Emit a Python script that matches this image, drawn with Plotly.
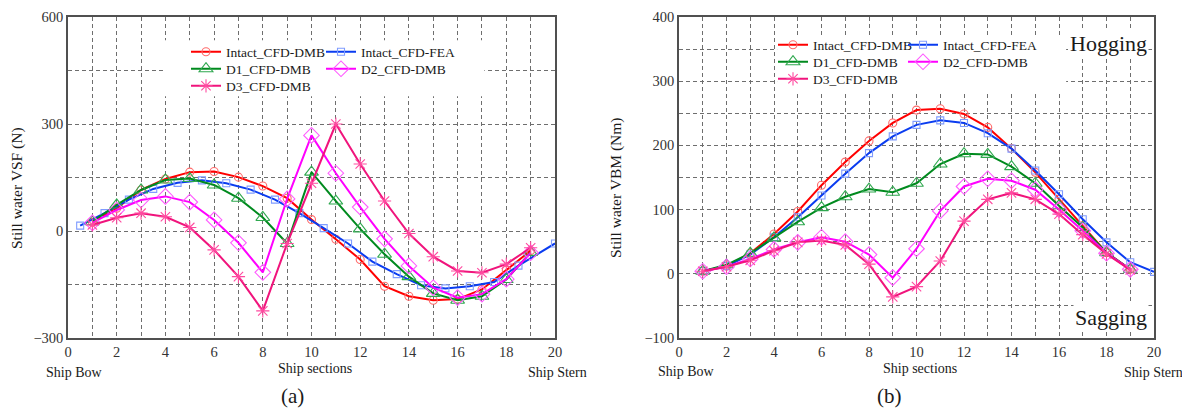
import plotly.graph_objects as go

W, H = 1182, 410

# ---------------- data ----------------
sections = list(range(1, 20))
fea_sections_vsf = [0.5, 1.5, 2.5, 3.5, 4.5, 5.5, 6.5, 7.5, 8.5, 9.5,
                    10.5, 11.5, 12.5, 13.5, 14.5, 15.5, 16.5, 17.5, 18.5, 20]
fea_sections_vbm = list(range(1, 21))

# (a) still water vertical shear force, N
vsf_intact_dmb = [25, 64, 115, 146, 165, 167, 151, 126, 92, 32,
                  -23, -80, -155, -183, -194, -191, -164, -110, -55]
vsf_intact_fea = [15, 50, 88, 118, 135, 142, 134, 116, 88, 50,
                  8, -35, -86, -121, -152, -161, -155, -143, -97, -35]
vsf_d1_dmb = [26, 73, 115, 143, 147, 129, 92, 38, -35, 165,
              84, 6, -65, -128, -175, -194, -183, -136, -60]
vsf_d2_dmb = [23, 59, 87, 97, 81, 31, -33, -116, 90, 268,
              162, 67, -22, -98, -159, -187, -177, -135, -61]
vsf_d3_dmb = [17, 37, 50, 40, 10, -53, -128, -224, -35, 134,
              300, 188, 84, -7, -72, -112, -117, -93, -47]

# (b) still water vertical bending moment, Nm
vbm_intact_dmb = [4, 12, 32, 62, 97, 138, 174, 207, 235, 255,
                  257, 249, 228, 195, 158, 116, 75, 33, 7]
vbm_intact_fea = [4, 12, 30, 57, 88, 122, 156, 188, 214, 232,
                  239, 235, 219, 195, 161, 124, 85, 49, 18, 3]
vbm_d1_dmb = [4, 14, 32, 56, 81, 103, 120, 132, 127, 141,
              171, 187, 186, 167, 141, 106, 72, 33, 7]
vbm_d2_dmb = [4, 11, 23, 38, 49, 57, 50, 30, -6, 39,
              98, 136, 148, 145, 131, 100, 67, 32, 7]
vbm_d3_dmb = [4, 11, 21, 36, 49, 52, 45, 15, -36, -20,
              20, 82, 116, 126, 116, 93, 61, 31, 6]

x_tick_vals = list(range(0, 21, 2))
vsf_tick_vals = [-300, 0, 300, 600]
vbm_tick_vals = [-100, 0, 100, 200, 300, 400]

series_names = ["Intact_CFD-DMB", "Intact_CFD-FEA", "D1_CFD-DMB", "D2_CFD-DMB", "D3_CFD-DMB"]

# ---------------- styling ----------------
FONT = "Liberation Serif"
styles = {
    "Intact_CFD-DMB": dict(line="#ff0000", mark="#ff6a6a", symbol="circle-open", size=8),
    "Intact_CFD-FEA": dict(line="#0a3cf0", mark="#7f9cff", symbol="square-open", size=7),
    "D1_CFD-DMB": dict(line="#008a1e", mark="#2fa84f", symbol="triangle-up-open", size=12),
    "D2_CFD-DMB": dict(line="#ff00ff", mark="#ff5cff", symbol="diamond-open", size=12),
    "D3_CFD-DMB": dict(line="#f0147c", mark="#ff4aa0", symbol="asterisk-open", size=11),
}

fig = go.Figure()

def px_x(p):
    return p / W

def px_y(p):
    return 1 - p / H

panels = [
    dict(xa="x", ya="y",
         data=[(sections, vsf_intact_dmb), (fea_sections_vsf, vsf_intact_fea),
               (sections, vsf_d1_dmb), (sections, vsf_d2_dmb), (sections, vsf_d3_dmb)],
         legend_pos={"Intact_CFD-DMB": (191, 52), "D1_CFD-DMB": (191, 69), "D3_CFD-DMB": (191, 86),
                     "Intact_CFD-FEA": (326, 52), "D2_CFD-DMB": (326, 69)}),
    dict(xa="x2", ya="y2",
         data=[(sections, vbm_intact_dmb), (fea_sections_vbm, vbm_intact_fea),
               (sections, vbm_d1_dmb), (sections, vbm_d2_dmb), (sections, vbm_d3_dmb)],
         legend_pos={"Intact_CFD-DMB": (778, 45), "D1_CFD-DMB": (778, 62), "D3_CFD-DMB": (778, 79),
                     "Intact_CFD-FEA": (908, 45), "D2_CFD-DMB": (908, 62)}),
]

layout_legends = {}
legend_idx = 1
for panel in panels:
    for name, (xs, ys) in zip(series_names, panel["data"]):
        st = styles[name]
        key = "legend" if legend_idx == 1 else f"legend{legend_idx}"
        fig.add_trace(go.Scatter(
            x=xs, y=ys, name=name, mode="lines+markers",
            xaxis=panel["xa"], yaxis=panel["ya"], legend=key,
            line=dict(color=st["line"], width=2),
            marker=dict(symbol=st["symbol"], size=st["size"], color=st["mark"],
                        line=dict(width=1.1, color=st["mark"])),
        ))
        lx, ly = panel["legend_pos"][name]
        layout_legends[key] = dict(
            x=px_x(lx - 5), y=px_y(ly), xanchor="left", yanchor="middle",
            bgcolor="rgba(0,0,0,0)", borderwidth=0,
            font=dict(family=FONT, size=13.5, color="#1a1a1a"),
        )
        legend_idx += 1

grid_dash = "4px,3px"
grid_color = "#6e6e6e"

def x_axis(domain, anchor):
    return dict(
        domain=domain, anchor=anchor, range=[0, 20], automargin=False,
        tickmode="array", tickvals=x_tick_vals, ticks="",
        showgrid=True, gridcolor=grid_color, griddash=grid_dash, gridwidth=1,
        minor=dict(dtick=1, tick0=0, showgrid=True, gridcolor=grid_color,
                   griddash=grid_dash, gridwidth=1),
        zeroline=False, showline=True, mirror=True, linecolor="#505050", linewidth=1.5,
        tickfont=dict(family=FONT, size=14.5, color="#333333"),
    )

def y_axis(domain, anchor, rng, vals, minor_step):
    return dict(
        domain=domain, anchor=anchor, range=rng, automargin=False,
        tickmode="array", tickvals=vals, ticks="",
        showgrid=True, gridcolor=grid_color, griddash=grid_dash, gridwidth=1,
        minor=dict(dtick=minor_step, tick0=0, showgrid=True, gridcolor=grid_color,
                   griddash=grid_dash, gridwidth=1),
        zeroline=False, showline=True, mirror=True, linecolor="#505050", linewidth=1.5,
        tickfont=dict(family=FONT, size=14.5, color="#333333"),
    )

y_dom = [px_y(338), px_y(17)]

annotations = []

def text(x, y, s, size=14, angle=0, xanchor="center", bg=None):
    a = dict(x=px_x(x), y=px_y(y), xref="paper", yref="paper", text=s, showarrow=False,
             xanchor=xanchor, yanchor="middle", textangle=angle,
             font=dict(family=FONT, size=size, color="#1a1a1a"))
    if bg:
        a["bgcolor"] = bg
    annotations.append(a)

text(17, 188, "Still water VSF (N)", size=15.5, angle=-90)
text(616, 188, "Still water VBM (Nm)", size=15.5, angle=-90)
text(44, 372, "Ship Bow", xanchor="left")
text(315, 368, "Ship sections")
text(526, 372, "Ship Stern", xanchor="left")
text(656, 371, "Ship Bow", xanchor="left")
text(920, 368, "Ship sections")
text(1122, 372, "Ship Stern", xanchor="left")
text(292, 396, "(a)", size=21)
text(889, 396, "(b)", size=21)
text(1108, 44, "Hogging", size=22, bg="white")
text(1111, 317, "Sagging", size=22, bg="white")

# white panels behind the legends, drawn over the grid but under the curves
shapes = [
    dict(type="rect", xref="x", yref="y", layer="between",
         x0=3.9, x1=17.1, y0=378, y1=535, fillcolor="white", line=dict(width=0)),
    dict(type="rect", xref="x2", yref="y2", layer="between",
         x0=4.13, x1=16.3, y0=282, y1=371, fillcolor="white", line=dict(width=0)),
]

fig.update_layout(
    width=W, height=H,
    margin=dict(l=0, r=0, t=0, b=0, autoexpand=False),
    paper_bgcolor="white", plot_bgcolor="white",
    showlegend=True,
    xaxis=x_axis([px_x(68), px_x(555)], "y"),
    yaxis=y_axis(y_dom, "x", [-300, 600], vsf_tick_vals, 150),
    xaxis2=x_axis([px_x(679), px_x(1154)], "y2"),
    yaxis2=y_axis(y_dom, "x2", [-100, 400], vbm_tick_vals, 50),
    annotations=annotations,
    shapes=shapes,
    **layout_legends,
)

fig.write_html("out.html")
